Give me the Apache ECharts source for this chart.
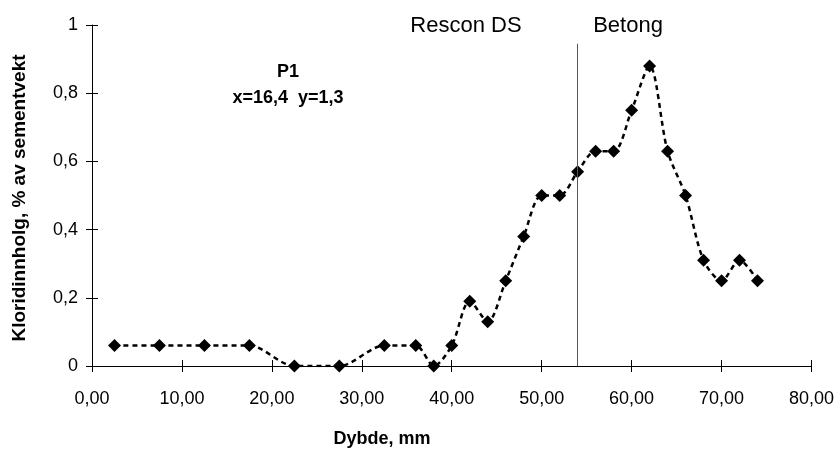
<!DOCTYPE html>
<html>
<head>
<meta charset="utf-8">
<script src="https://cdn.jsdelivr.net/npm/echarts@6/dist/echarts.min.js"></script>
<style>
  html, body { margin: 0; padding: 0; background: #fff; }
  #chart { width: 837px; height: 449px; }
</style>
</head>
<body>
<div id="chart"></div>
<script>
// ---- data ----
const depth = [2.5, 7.5, 12.5, 17.5, 22.5, 27.5, 32.5, 36, 38, 40, 42, 44, 46, 48, 50, 52, 54, 56, 58, 60, 62, 64, 66, 68, 70, 72, 74];
const chloride = [0.06, 0.06, 0.06, 0.06, 0, 0, 0.06, 0.06, 0, 0.06, 0.19, 0.13, 0.25, 0.38, 0.5, 0.5, 0.57, 0.63, 0.63, 0.75, 0.88, 0.63, 0.5, 0.31, 0.25, 0.31, 0.25];
const xTicks = { min: 0, max: 80, interval: 10 };
const yTicks = { min: 0, max: 1, interval: 0.2 };
const dividerX = [54];
const dividerSpan = [0, 0.945];
const zoneLabels = ['Rescon DS', 'Betong'];
const noteLines = ['P1', 'x=16,4  y=1,3'];
const xTitle = 'Dybde, mm';
const yTitle = 'Kloridinnholg, % av sementvekt';

const FONT = '"Liberation Sans", Arial, sans-serif';
const fmtX = v => v.toFixed(2).replace('.', ',');
const fmtY = v => String(parseFloat(v.toFixed(2))).replace('.', ',');

const chart = echarts.init(document.getElementById('chart'), null, { renderer: 'canvas' });

const baseAxisLine = { show: true, lineStyle: { color: '#000', width: 1 } };

chart.setOption({
  animation: false,
  backgroundColor: '#fff',
  grid: { left: 92, right: 25, top: 25, bottom: 83, containLabel: false },
  xAxis: [
    {
      type: 'value', min: xTicks.min, max: xTicks.max, interval: xTicks.interval,
      position: 'bottom',
      axisLine: baseAxisLine,
      axisTick: { show: true, inside: false, length: 6, lineStyle: { color: '#000' } },
      axisLabel: { formatter: fmtX, fontFamily: FONT, fontSize: 18, color: '#000', margin: 24 },
      splitLine: { show: false }
    },
    {
      type: 'value', min: xTicks.min, max: xTicks.max, interval: xTicks.interval,
      position: 'bottom',
      axisLine: { show: false },
      axisTick: { show: true, inside: true, length: 6, lineStyle: { color: '#000' } },
      axisLabel: { show: false },
      splitLine: { show: false }
    }
  ],
  yAxis: [
    {
      type: 'value', min: yTicks.min, max: yTicks.max, interval: yTicks.interval,
      position: 'left',
      axisLine: baseAxisLine,
      axisTick: { show: true, inside: false, length: 6, lineStyle: { color: '#000' } },
      axisLabel: { formatter: fmtY, fontFamily: FONT, fontSize: 18, color: '#000', margin: 14 },
      splitLine: { show: false }
    },
    {
      type: 'value', min: yTicks.min, max: yTicks.max, interval: yTicks.interval,
      position: 'left',
      axisLine: { show: false },
      axisTick: { show: true, inside: true, length: 6, lineStyle: { color: '#000' } },
      axisLabel: { show: false },
      splitLine: { show: false }
    }
  ],
  series: [
    {
      type: 'line',
      xAxisIndex: 0, yAxisIndex: 0,
      data: depth.map((d, i) => [d, chloride[i]]),
      smooth: 0.3,
      symbol: 'diamond',
      symbolSize: 13,
      itemStyle: { color: '#000' },
      lineStyle: { color: '#000', width: 2.5, type: [5, 4] },
      z: 3,
      markLine: {
        silent: true,
        symbol: ['none', 'none'],
        label: { show: false },
        lineStyle: { color: '#555', width: 1, type: 'solid' },
        data: dividerX.map(x => [{ coord: [x, dividerSpan[0]] }, { coord: [x, dividerSpan[1]] }])
      }
    }
  ],
  graphic: [
    { type: 'text', x: 466, y: 26, style: { text: zoneLabels[0], font: '22px ' + FONT, fill: '#000', textAlign: 'center', textVerticalAlign: 'middle' } },
    { type: 'text', x: 628, y: 26, style: { text: zoneLabels[1], font: '22px ' + FONT, fill: '#000', textAlign: 'center', textVerticalAlign: 'middle' } },
    { type: 'text', x: 288, y: 72, style: { text: noteLines[0], font: 'bold 18px ' + FONT, fill: '#000', textAlign: 'center', textVerticalAlign: 'middle' } },
    { type: 'text', x: 288, y: 98, style: { text: noteLines[1], font: 'bold 18px ' + FONT, fill: '#000', textAlign: 'center', textVerticalAlign: 'middle' } },
    { type: 'text', x: 382, y: 439, style: { text: xTitle, font: 'bold 18px ' + FONT, fill: '#000', textAlign: 'center', textVerticalAlign: 'middle' } },
    { type: 'text', x: 20, y: 198, rotation: Math.PI / 2, style: { text: yTitle, font: 'bold 19px ' + FONT, fill: '#000', textAlign: 'center', textVerticalAlign: 'middle' } }
  ]
});
</script>
</body>
</html>
